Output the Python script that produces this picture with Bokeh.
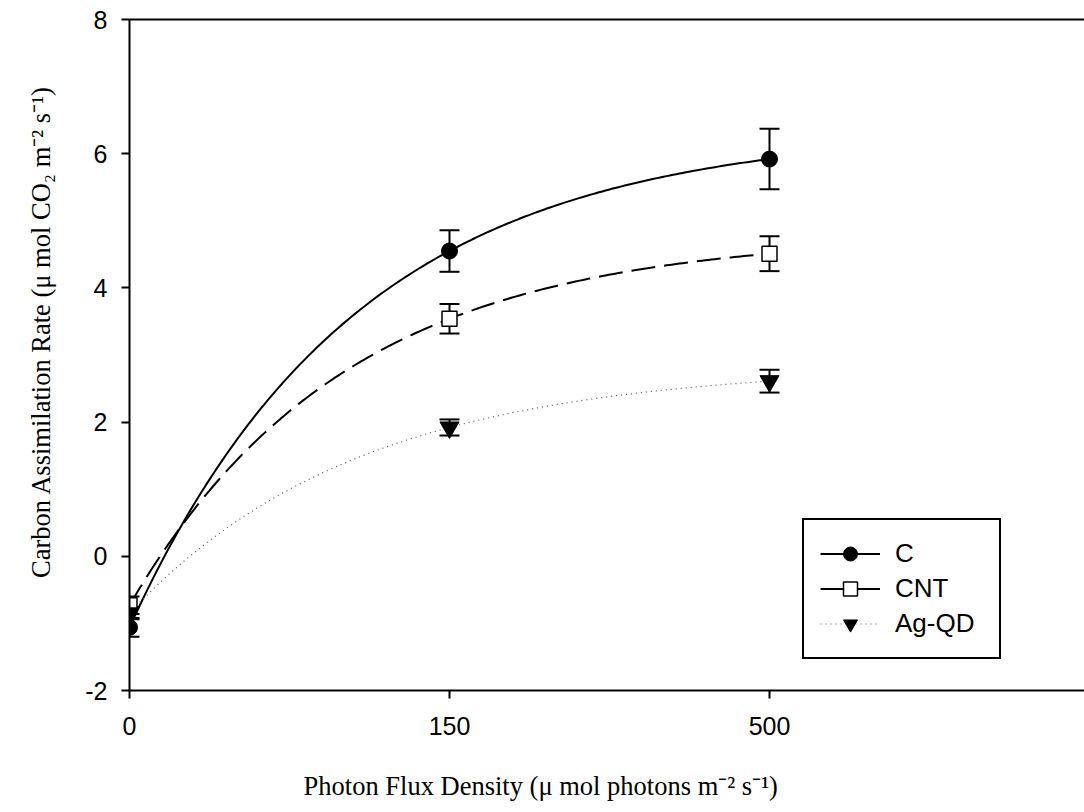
import numpy as np
from bokeh.plotting import figure
from bokeh.models import (Range1d, FixedTicker, LinearAxis, Whisker, TeeHead,
                          ColumnDataSource, Legend, LegendItem)
from bokeh.embed import file_html
from bokeh.resources import INLINE

# ---- data ----
pfd_labels = ["0", "150", "500"]
pfd_pos = [0, 1, 2]
y_ticks = [-2, 0, 2, 4, 6, 8]
y_tick_labels = ["-2", "0", "2", "4", "6", "8"]
c_mean = [-1.06, 4.55, 5.92]
c_err = [0.14, 0.31, 0.45]
cnt_mean = [-0.73, 3.54, 4.51]
cnt_err = [0.13, 0.22, 0.26]
ag_mean = [-0.85, 1.92, 2.61]
ag_err = [0.09, 0.12, 0.17]

x_title = "Photon Flux Density (\u03bc mol photons m\u207b\u00b2 s\u207b\u00b9)"
y_title = "Carbon Assimilation Rate (\u03bc mol CO\u2082 m\u207b\u00b2 s\u207b\u00b9)"


def rise_curve(means, n=200):
    """Smooth rise-to-maximum curve through the three means."""
    y0, y1, y2 = means
    q = (y2 - y1) / (y1 - y0)
    a = (y1 - y0) / (1 - q)
    t = np.linspace(pfd_pos[0], pfd_pos[-1], n)
    return t, y0 + a * (1 - q ** t)


SANS = "Liberation Sans"
SERIF = "Liberation Serif"
NBSP = "\u00a0"

# frame geometry (pixels)
LEFT, TOP, BOTTOM, W, H = 129, 19, 690, 1084, 812
PX_PER_CAT = 320

p = figure(width=W, height=H, output_backend="svg", toolbar_location=None,
           x_range=Range1d(0, (W - LEFT) / PX_PER_CAT), y_range=Range1d(-2, 8),
           min_border_left=LEFT, min_border_right=0, min_border_top=TOP,
           min_border_bottom=H - BOTTOM)
p.outline_line_color = None
p.grid.visible = False

# axes
p.xaxis.ticker = FixedTicker(ticks=pfd_pos)
p.xaxis.major_label_overrides = {k: v for k, v in zip(pfd_pos, pfd_labels)}
p.yaxis.ticker = FixedTicker(ticks=y_ticks)
p.yaxis.major_label_overrides = {k: v for k, v in zip(y_ticks, y_tick_labels)}
for ax in (p.xaxis, p.yaxis):
    ax.axis_line_width = 2
    ax.axis_line_color = "black"
    ax.major_tick_line_width = 2
    ax.major_tick_line_color = "black"
    ax.major_tick_out = 8
    ax.major_tick_in = 0
    ax.minor_tick_line_color = None
    ax.major_label_text_font = SANS
    ax.major_label_text_font_size = "25px"
    ax.major_label_text_color = "black"
    ax.axis_label_text_font = SERIF
    ax.axis_label_text_font_size = "26.5px"
    ax.axis_label_text_font_style = "normal"
    ax.axis_label_text_color = "black"
p.xaxis.major_label_standoff = 18
p.yaxis.major_label_standoff = 14
# the reference titles sit off the frame centre: pad with no-break spaces
p.xaxis.axis_label = x_title + NBSP * 20
p.yaxis.axis_label = NBSP * 7 + y_title
p.xaxis.axis_label_standoff = 33
p.yaxis.axis_label_standoff = 26

top = LinearAxis(ticker=FixedTicker(ticks=[]), axis_line_width=2, axis_line_color="black",
                 major_tick_out=0, major_tick_in=0, minor_tick_out=0, minor_tick_in=0,
                 major_label_text_font_size="0px", major_label_standoff=0)
p.add_layout(top, "above")

# curves
tx, ty = rise_curve(c_mean)
c_line = p.line(tx, ty, line_color="black", line_width=2)
tx, ty = rise_curve(cnt_mean)
cnt_line = p.line(tx, ty, line_color="black", line_width=2, line_dash="24 9")
tx, ty = rise_curve(ag_mean)
ag_line = p.line(tx, ty, line_color="#555555", line_width=1.2, line_dash="1 4")

# error bars
for mean, err in ((c_mean, c_err), (cnt_mean, cnt_err), (ag_mean, ag_err)):
    src = ColumnDataSource(dict(x=pfd_pos,
                                lo=[m - e for m, e in zip(mean, err)],
                                hi=[m + e for m, e in zip(mean, err)]))
    w = Whisker(base="x", lower="lo", upper="hi", source=src,
                line_color="black", line_width=2,
                upper_head=TeeHead(size=20, line_width=2, line_color="black"),
                lower_head=TeeHead(size=20, line_width=2, line_color="black"))
    p.add_layout(w)

# markers
c_pts = p.scatter(pfd_pos, c_mean, marker="circle", size=16,
                  fill_color="black", line_color="black")
cnt_pts = p.scatter(pfd_pos, cnt_mean, marker="square", size=15,
                    fill_color="white", line_color="black", line_width=1.5)
ag_pts = p.scatter(pfd_pos, ag_mean, marker="inverted_triangle", size=19,
                   fill_color="black", line_color="black")

# legend proxy for CNT (the reference legend shows a solid line)
cnt_proxy = p.line(x=[0, 1], y=[float("nan"), float("nan")],
                   line_color="black", line_width=2)

legend = Legend(items=[
    LegendItem(label="C", renderers=[c_line, c_pts]),
    LegendItem(label="CNT", renderers=[cnt_proxy, cnt_pts]),
    LegendItem(label="Ag-QD", renderers=[ag_line, ag_pts]),
], location=(673, 31))
legend.border_line_color = "black"
legend.border_line_width = 2
legend.border_line_alpha = 1
legend.background_fill_color = "white"
legend.background_fill_alpha = 1
legend.padding = 16
legend.spacing = 0
legend.margin = 0
legend.glyph_width = 60
legend.glyph_height = 35
legend.label_height = 35
legend.label_width = 88
legend.label_standoff = 15
legend.label_text_font = SANS
legend.label_text_font_size = "26px"
legend.label_text_color = "black"
p.add_layout(legend)

open("out.html", "w").write(file_html(p, INLINE))
